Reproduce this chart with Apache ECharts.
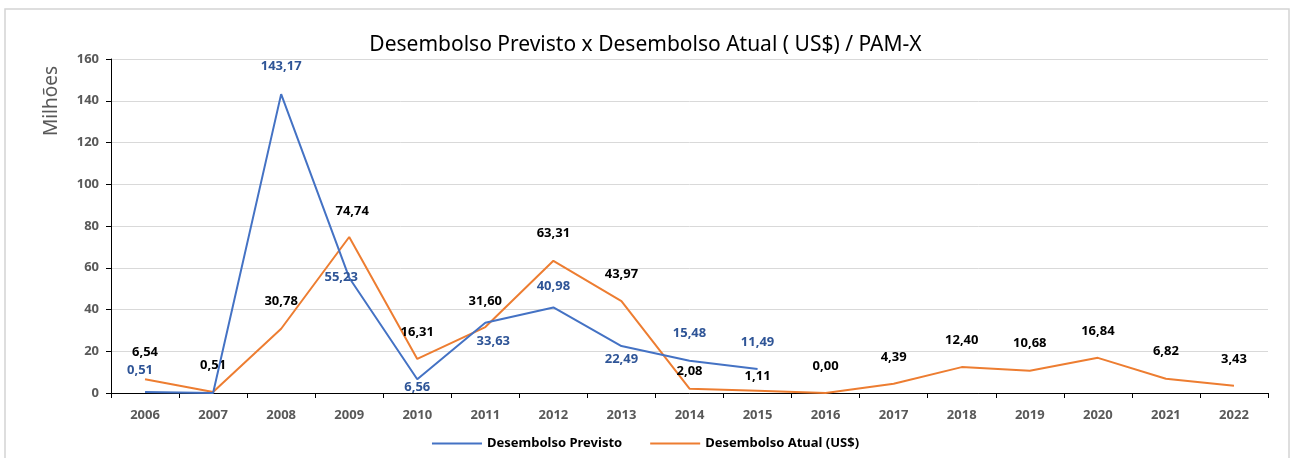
<!DOCTYPE html>
<html lang="pt">
<head>
    <meta charset="UTF-8">
    <title>Desembolso PAM-X</title>
    <script src="https://cdn.jsdelivr.net/npm/echarts@6/dist/echarts.min.js"></script>
    <style>
        html, body { margin: 0; padding: 0; background: #fff; }
        #chart { width: 1291px; height: 458px; }
    </style>
</head>
<body>
<div id="chart"></div>
<script>
    // dados (milhões)
    const anos = ['2006', '2007', '2008', '2009', '2010', '2011', '2012', '2013', '2014',
        '2015', '2016', '2017', '2018', '2019', '2020', '2021', '2022'];
    const previsto = [0.51, 0, 143.17, 55.23, 6.56, 33.63, 40.98, 22.49, 15.48, 11.49,
        null, null, null, null, null, null, null];
    const atual = [6.54, 0.51, 30.78, 74.74, 16.31, 31.60, 63.31, 43.97, 2.08, 1.11,
        0.00, 4.39, 12.40, 10.68, 16.84, 6.82, 3.43];
    const yTicks = [0, 20, 40, 60, 80, 100, 120, 140, 160];

    // deslocamento dos rótulos em relação ao ponto (posicionados à mão no original)
    const offPrevisto = [[-5, -22], null, [0, -28], [-8, 0], [0, 8], [8, 18], [0, -21], [0, 13], [0, -27], [0, -27]];
    const offAtual = [[0, -27], [0, -27], [0, -27], [3, -26], [0, -27], [0, -26], [0, -28], [0, -27], [0, -17],
        [0, -14], [0, -27], [0, -27], [0, -27], [0, -27], [0, -27], [0, -27], [0, -27]];

    const fmt = v => v.toFixed(2).replace('.', ',');

    function montaDados(valores, offs) {
        return valores.map(function (v, i) {
            if (v === null) return null;
            const off = offs[i];
            return {
                value: v,
                label: {show: !!off, position: 'inside', offset: off || [0, 0]}
            };
        });
    }

    const chart = echarts.init(document.getElementById('chart'));
    chart.setOption({
        animation: false,
        textStyle: {fontFamily: 'Noto Sans'},
        title: {
            text: 'Desembolso Previsto x Desembolso Atual ( US$) / PAM-X',
            left: 'center',
            top: 30,
            textStyle: {fontSize: 21, fontWeight: 'normal', color: '#000', fontFamily: 'Noto Sans'}
        },
        graphic: [
            {
                type: 'rect',
                shape: {x: 5, y: 9, width: 1284, height: 460},
                style: {fill: 'none', stroke: '#d4d4d4', lineWidth: 1.5},
                silent: true
            },
            {
                type: 'text',
                x: 52, y: 101,
                rotation: Math.PI / 2,
                style: {
                    text: 'Milhões', fontSize: 19, fill: '#595959',
                    align: 'center', verticalAlign: 'middle', fontFamily: 'Noto Sans'
                }
            }
        ],
        legend: {
            bottom: 3,
            left: 'center',
            itemWidth: 50,
            itemHeight: 2,
            itemGap: 28,
            icon: 'rect',
            textStyle: {fontSize: 13, fontWeight: 'bold', color: '#000'},
            data: ['Desembolso Previsto', 'Desembolso Atual (US$)']
        },
        grid: {left: 111, right: 23, top: 59, bottom: 65},
        xAxis: {
            type: 'category',
            data: anos,
            boundaryGap: true,
            axisLine: {lineStyle: {color: '#000', width: 1}},
            axisTick: {show: true, length: 5, lineStyle: {color: '#000'}},
            axisLabel: {color: '#595959', fontSize: 13, fontWeight: 'bold', margin: 16}
        },
        yAxis: {
            type: 'value',
            min: yTicks[0],
            max: yTicks[yTicks.length - 1],
            interval: 20,
            axisLine: {show: true, lineStyle: {color: '#000', width: 1}},
            axisTick: {show: true, length: 5, lineStyle: {color: '#000'}},
            axisLabel: {color: '#595959', fontSize: 13, fontWeight: 'bold', margin: 12},
            splitLine: {lineStyle: {color: '#d9d9d9', width: 1}}
        },
        series: [
            {
                name: 'Desembolso Previsto',
                type: 'line',
                data: montaDados(previsto, offPrevisto),
                color: '#4472C4',
                lineStyle: {width: 2},
                showSymbol: true,
                showAllSymbol: true,
                symbol: 'circle',
                symbolSize: 0.01,
                connectNulls: false,
                label: {
                    fontSize: 13, fontWeight: 'bold', color: '#2F5597',
                    formatter: p => fmt(p.value)
                },
                z: 3
            },
            {
                name: 'Desembolso Atual (US$)',
                type: 'line',
                data: montaDados(atual, offAtual),
                color: '#ED7D31',
                lineStyle: {width: 2},
                showSymbol: true,
                showAllSymbol: true,
                symbol: 'circle',
                symbolSize: 0.01,
                label: {
                    fontSize: 13, fontWeight: 'bold', color: '#000',
                    formatter: p => fmt(p.value)
                },
                z: 2
            }
        ]
    });
</script>
</body>
</html>
